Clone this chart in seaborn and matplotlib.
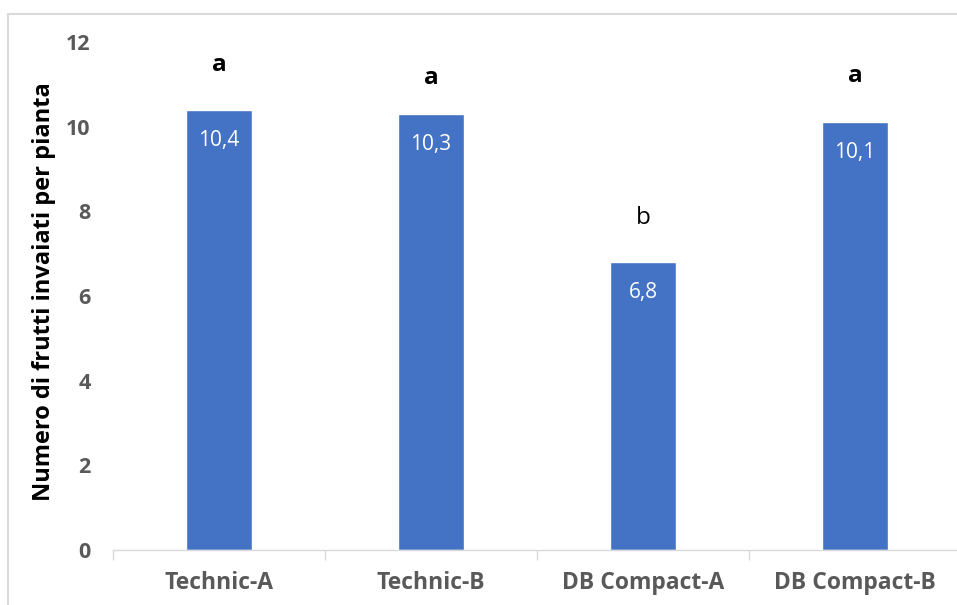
import matplotlib
matplotlib.use("Agg")
import matplotlib.pyplot as plt
from matplotlib.patches import Rectangle
import seaborn as sns
import pandas as pd

categories = ["Technic-A", "Technic-B", "DB Compact-A", "DB Compact-B"]
values = [10.4, 10.3, 6.8, 10.1]
value_labels = ["10,4", "10,3", "6,8", "10,1"]
letters = ["a", "a", "b", "a"]
letter_heights = [11.52, 11.21, 7.91, 11.26]
letter_bold = [True, True, False, True]
y_ticks = [0, 2, 4, 6, 8, 10, 12]
y_label = "Numero di frutti invaiati per pianta"

sns.set_theme(style="white")
plt.rcParams["font.family"] = ["Open Sans", "DejaVu Sans"]

df = pd.DataFrame({"cat": categories, "val": values})

fig = plt.figure(figsize=(9.57, 6.05), dpi=100)
ax = fig.add_axes([113 / 957, 1 - 550 / 605, 848 / 957, 508 / 605])

sns.barplot(data=df, x="cat", y="val", color="#4472C4", saturation=1,
            width=0.31, ax=ax)

ax.set_ylim(0, 12)
ax.set_xlim(-0.5, len(categories) - 0.5)
ax.set_yticks(y_ticks)
ax.set_yticklabels([str(t) for t in y_ticks], fontsize=15.5,
                   fontweight="bold", color="#595959")
ax.tick_params(axis="y", length=0, pad=16)
ax.set_xticks(range(len(categories)))
ax.set_xticklabels(categories, fontsize=16.5, fontweight="bold",
                   color="#595959")
ax.tick_params(axis="x", length=0, pad=15)
ax.set_xticks([i - 0.5 for i in range(len(categories) + 1)], minor=True)
ax.tick_params(axis="x", which="minor", length=7, width=1, color="#D9D9D9",
               direction="out", bottom=True)
ax.set_xlabel("")
ax.set_ylabel("")
fig.text(44 / 957, 1 - 292 / 605, y_label, rotation=90, ha="center",
         va="center", fontsize=17, fontweight="bold", color="black")

for s in ["top", "right", "left"]:
    ax.spines[s].set_visible(False)
ax.spines["bottom"].set_color("#D9D9D9")
ax.spines["bottom"].set_linewidth(1)

# value labels sit just inside the top of each bar
for i, (v, lab) in enumerate(zip(values, value_labels)):
    ax.text(i, v - 0.66, lab, ha="center", va="center_baseline",
            color="white", fontsize=15)

# significance letters above the bars
for i, (let, h, b) in enumerate(zip(letters, letter_heights, letter_bold)):
    ax.text(i, h, let, ha="center", va="center_baseline", color="black",
            fontsize=17.5, fontweight="bold" if b else "normal")

fig.patches.append(Rectangle((8 / 957, -0.1), 1.1, 1.1 - 14 / 605,
                             transform=fig.transFigure, fill=False,
                             edgecolor="#D9D9D9", linewidth=1.5))

fig.savefig("out.png", dpi=100)
